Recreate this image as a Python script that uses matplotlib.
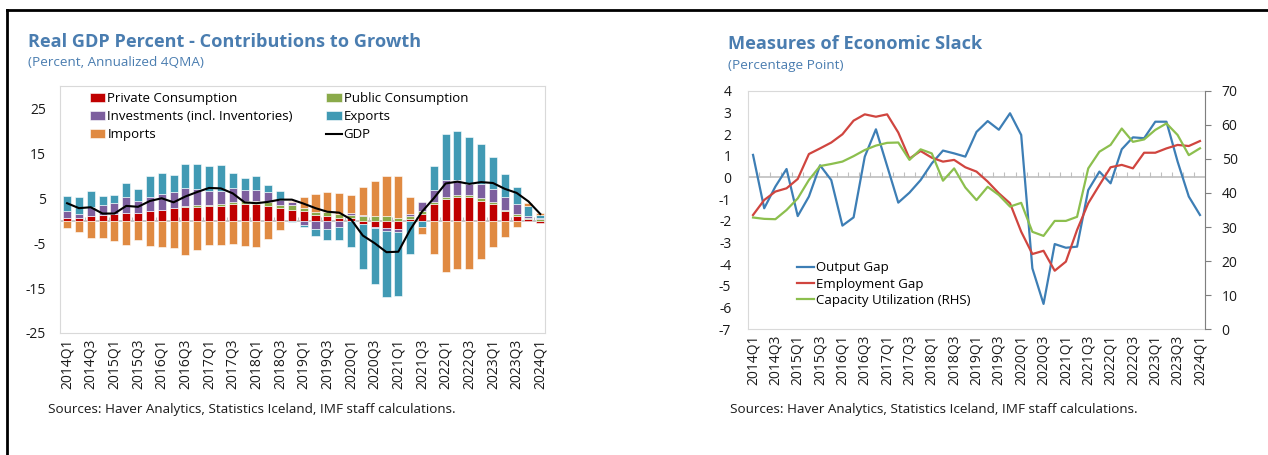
import numpy as np
import matplotlib.pyplot as plt
from matplotlib.lines import Line2D

plt.rcParams['font.family'] = ['Open Sans', 'DejaVu Sans']
plt.rcParams['axes.unicode_minus'] = False

quarters = [f"{y}Q{q}" for y in range(2014, 2025) for q in range(1, 5)][:41]

# left panel: contributions to growth (percentage points)
priv = [0.6, 0.7, 1.0, 1.3, 1.5, 1.7, 1.8, 2.1, 2.5, 2.9, 3.0, 3.1, 3.2, 3.3, 3.8, 3.8, 3.7, 3.3, 2.9, 2.3,
        2.1, 1.3, 1.1, 0.7, 0.6, -0.7, -1.3, -1.6, -1.9, 0.4, 1.5, 3.7, 4.8, 5.2, 5.2, 4.4, 3.7, 2.1, 1.1, 0.3, -0.4]
pub = [0.0, 0.0, 0.0, 0.0, 0.0, 0.0, 0.0, 0.0, 0.0, 0.0, 0.3, 0.3, 0.2, 0.4, 0.3, 0.6, 0.8, 0.9, 0.7, 1.2,
       0.8, 0.7, 0.9, 0.7, 0.7, 1.0, 1.0, 1.1, 0.7, 0.7, 0.7, 0.5, 0.5, 0.6, 0.6, 0.6, 0.4, 0.4, 0.4, 0.3, 0.4]
inv = [1.5, 0.9, 2.1, 2.1, 2.4, 3.6, 2.6, 3.2, 3.4, 3.6, 4.0, 3.6, 3.2, 2.9, 3.2, 2.5, 2.4, 2.2, 1.0, 0.6,
       -0.9, -1.9, -1.9, -1.5, 0.4, 0.2, -0.3, -0.6, -0.5, 0.4, 2.0, 2.7, 3.7, 3.2, 2.3, 3.1, 2.9, 2.8, 2.2, 0.4, 0.2]
exp = [3.3, 3.7, 3.6, 2.0, 1.9, 3.1, 2.7, 4.6, 4.7, 3.6, 5.3, 5.6, 5.5, 5.7, 3.4, 2.7, 3.0, 1.5, 2.0, -0.3,
       -0.6, -1.4, -2.5, -2.8, -5.9, -10.0, -12.5, -14.7, -14.3, -7.3, -1.3, 5.3, 10.4, 11.0, 10.6, 8.9, 7.1, 5.2, 3.7, 2.3, 0.7]
imp = [-1.7, -2.6, -3.9, -3.9, -4.5, -5.3, -4.3, -5.6, -5.8, -6.0, -7.6, -6.5, -5.3, -5.4, -5.1, -5.7, -5.9, -4.0, -2.1, 0.4,
       2.4, 3.9, 4.4, 4.7, 4.1, 6.2, 7.9, 8.8, 9.2, 3.7, -1.7, -7.4, -11.5, -10.7, -10.7, -8.5, -5.9, -3.7, -1.5, 0.6, 0.5]
gdp = [3.9, 2.8, 3.0, 1.6, 1.6, 3.3, 3.1, 4.4, 5.0, 4.1, 5.4, 6.4, 7.3, 7.2, 6.1, 4.1, 3.9, 4.2, 4.7, 4.7,
       3.8, 2.8, 2.0, 1.8, 0.3, -3.3, -5.0, -7.0, -6.9, -2.0, 2.0, 5.0, 8.3, 8.7, 8.2, 8.6, 8.4, 7.1, 6.2, 4.3, 1.5]

# right panel: slack measures
out_gap = [1.04, -1.42, -0.42, 0.39, -1.78, -0.88, 0.56, -0.12, -2.22, -1.84, 0.96, 2.22, 0.53, -1.16, -0.70, -0.12,
           0.65, 1.24, 1.11, 0.96, 2.10, 2.60, 2.20, 2.96, 1.96, -4.19, -5.83, -3.07, -3.24, -3.19, -0.58, 0.27,
           -0.27, 1.30, 1.85, 1.81, 2.57, 2.57, 0.73, -0.88, -1.73]
emp_gap = [-1.73, -1.04, -0.65, -0.50, -0.07, 1.08, 1.34, 1.61, 1.99, 2.62, 2.91, 2.80, 2.91, 2.07, 0.87, 1.22,
           0.91, 0.73, 0.81, 0.47, 0.27, -0.19, -0.73, -1.19, -2.50, -3.53, -3.38, -4.30, -3.88, -2.42, -1.19, -0.35,
           0.47, 0.58, 0.42, 1.14, 1.14, 1.34, 1.50, 1.45, 1.68]
cap_util = [32.8, 32.4, 32.3, 35.0, 38.4, 43.8, 47.9, 48.5, 49.2, 50.8, 52.6, 53.9, 54.7, 54.8, 49.7, 52.8,
            51.6, 43.6, 47.2, 41.6, 37.9, 41.8, 39.4, 36.0, 37.1, 28.6, 27.4, 31.8, 31.8, 33.0, 47.2, 52.1,
            54.1, 58.9, 55.0, 55.7, 58.5, 60.4, 57.0, 51.1, 53.1]

title_col = '#4A7DB0'
txt_col = '#1a1a1a'
box_col = '#D9D9D9'
zero_col = '#BFBFBF'

W, H = 1268, 455
fig = plt.figure(figsize=(W / 100, H / 100), dpi=100)

# partial page frame (top and left)
fig.add_artist(Line2D([7 / W, 7 / W], [0, 1 - 10 / H], color='black', lw=2))
fig.add_artist(Line2D([7 / W, 1], [1 - 10 / H, 1 - 10 / H], color='black', lw=2))

x = np.arange(len(quarters))

# ---------------- left chart ----------------
ax1 = fig.add_axes([60 / W, 1 - 333 / H, 485 / W, 247 / H])
series = [(priv, 'Private Consumption', '#C00000'),
          (pub, 'Public Consumption', '#8AAA4A'),
          (inv, 'Investments (incl. Inventories)', '#7D5F9E'),
          (exp, 'Exports', '#419AB4'),
          (imp, 'Imports', '#E08A42')]
pos_bot = np.zeros(len(x))
neg_bot = np.zeros(len(x))
handles = {}
for vals, lab, col in series:
    v = np.array(vals)
    bot = np.where(v >= 0, pos_bot, neg_bot)
    handles[lab] = ax1.bar(x, v, bottom=bot, width=0.68, color=col, edgecolor='white',
                           linewidth=0.4, label=lab, zorder=2)
    pos_bot += np.clip(v, 0, None)
    neg_bot += np.clip(v, None, 0)
gdp_line, = ax1.plot(x, gdp, color='black', lw=1.5, label='GDP', zorder=3)
ax1.axhline(0, color=zero_col, lw=1.2, zorder=1)

ax1.set_xlim(-0.6, 40.4)
ax1.set_ylim(-25, 30)
ax1.set_yticks([-25, -15, -5, 5, 15, 25])
ax1.set_xticks(x[::2])
ax1.set_xticklabels(quarters[::2], rotation=90)
ax1.tick_params(length=0, labelsize=10, colors=txt_col)
ax1.tick_params(axis='y', pad=10)
ax1.tick_params(axis='x', pad=4)
for s in ax1.spines.values():
    s.set_color(box_col)

sec1 = ax1.secondary_xaxis(25 / 55)
sec1.set_alignment('bottom')
sec1.set_xticks(np.arange(1.5, 41, 2))
sec1.tick_params(direction='in', length=3, color=zero_col, labelbottom=False)
for s in sec1.spines.values():
    s.set_visible(False)

order = ['Private Consumption', 'Investments (incl. Inventories)', 'Imports',
         'Public Consumption', 'Exports']
hs = [handles[k] for k in order] + [gdp_line]
ls = order + ['GDP']
ax1.legend(hs, ls, ncol=2, loc='upper left', bbox_to_anchor=(0.05, 0.996), frameon=False,
           fontsize=9.5, handlelength=1.2, handleheight=0.7, handletextpad=0.15,
           labelspacing=0.38, columnspacing=2.5, borderaxespad=0)

fig.text(28 / W, 1 - 42 / H, 'Real GDP Percent - Contributions to Growth', color=title_col,
         fontsize=13.1, fontweight='bold', va='center')
fig.text(28 / W, 1 - 63 / H, '(Percent, Annualized 4QMA)', color=title_col, fontsize=9.7, va='center')
fig.text(48 / W, 1 - 410 / H, 'Sources: Haver Analytics, Statistics Iceland, IMF staff calculations.',
         color=txt_col, fontsize=9.7, va='center')

# ---------------- right chart ----------------
ax2 = fig.add_axes([748 / W, 1 - 329.3 / H, 457 / W, 238.6 / H])
l1, = ax2.plot(x, out_gap, color='#3D7EB5', lw=1.6, label='Output Gap')
l2, = ax2.plot(x, emp_gap, color='#D0453F', lw=1.6, label='Employment Gap')
ax2.axhline(0, color=zero_col, lw=1.2, zorder=1)
ax2.set_xlim(-0.45, 40.45)
ax2.set_ylim(-7, 4)
ax2.set_yticks(range(-7, 5))
ax2.set_xticks(x[::2])
ax2.set_xticklabels(quarters[::2], rotation=90)
ax2.tick_params(length=0, labelsize=10, colors=txt_col)
ax2.tick_params(axis='y', pad=12)
ax2.tick_params(axis='x', pad=4)
for s in ax2.spines.values():
    s.set_color(box_col)

sec2 = ax2.secondary_xaxis(7 / 11)
sec2.set_alignment('bottom')
sec2.set_xticks(np.arange(0.5, 40, 1))
sec2.tick_params(direction='in', length=3.5, color=zero_col, labelbottom=False)
for s in sec2.spines.values():
    s.set_visible(False)

ax3 = ax2.twinx()
l3, = ax3.plot(x, cap_util, color='#8CBF4E', lw=1.6, label='Capacity Utilization (RHS)')
ax3.set_ylim(0, 70)
ax3.set_yticks(range(0, 71, 10))
ax3.tick_params(axis='y', direction='out', length=4, color='#7F7F7F', labelsize=10,
                labelcolor=txt_col, pad=8)
for k, s in ax3.spines.items():
    s.set_visible(k == 'right')
ax3.spines['right'].set_color('#7F7F7F')

ax3.legend([l1, l2, l3], ['Output Gap', 'Employment Gap', 'Capacity Utilization (RHS)'],
           loc='lower left', bbox_to_anchor=(0.095, 0.071), frameon=False, fontsize=9.5,
           handlelength=1.3, handletextpad=0.15, labelspacing=0.26, borderaxespad=0)

fig.text(728 / W, 1 - 44 / H, 'Measures of Economic Slack', color=title_col,
         fontsize=13.1, fontweight='bold', va='center')
fig.text(728 / W, 1 - 66 / H, '(Percentage Point)', color=title_col, fontsize=9.7, va='center')
fig.text(730 / W, 1 - 410 / H, 'Sources: Haver Analytics, Statistics Iceland, IMF staff calculations.',
         color=txt_col, fontsize=9.7, va='center')

fig.savefig('out.png', dpi=100)
